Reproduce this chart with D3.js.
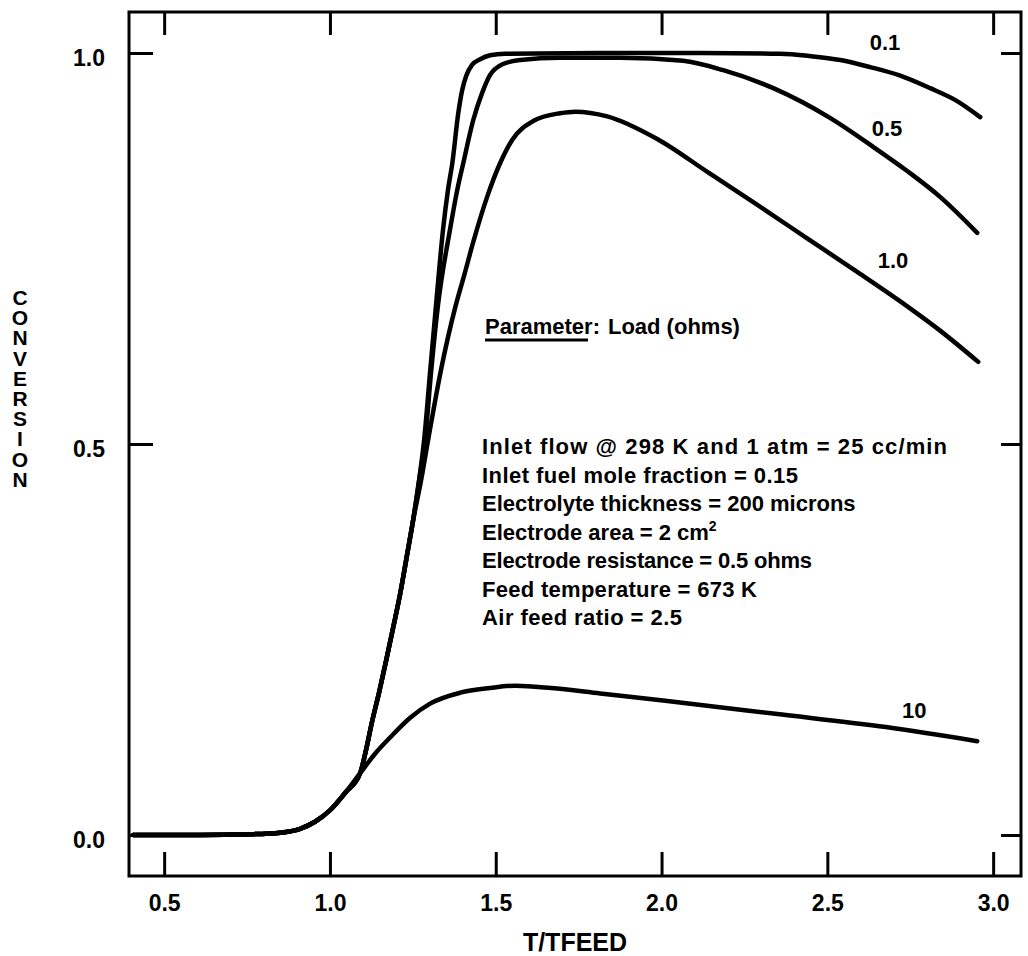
<!DOCTYPE html>
<html>
<head>
<meta charset="utf-8">
<script src="https://cdn.jsdelivr.net/npm/d3@7"></script>
<style>
  html, body { margin: 0; padding: 0; background: #fff; }
  svg { display: block; }
  text { font-family: "Liberation Sans", Arial, Helvetica, sans-serif; font-weight: bold; fill: #000; }
</style>
</head>
<body>
<svg id="chart" width="1028" height="956"></svg>
<script>
// Conversion vs. reduced temperature T/TFEED for four external loads (ohms)
const xTicks = [0.5, 1.0, 1.5, 2.0, 2.5, 3.0];
const yTicks = [0.0, 0.5, 1.0];
const xTickLabels = ["0.5", "1.0", "1.5", "2.0", "2.5", "3.0"];
const yTickLabels = ["0.0", "0.5", "1.0"];

// low-temperature branch common to every load
const baseX = [0.407, 0.609, 0.759, 0.850, 0.910, 0.955, 1.001, 1.046, 1.091];
const baseY = [0.0, 0.0, 0.001, 0.003, 0.008, 0.017, 0.032, 0.054, 0.079];

// ignition branch common to loads 0.1, 0.5 and 1.0
const riseX = [1.109, 1.127, 1.148, 1.170, 1.191, 1.212, 1.230, 1.251];
const riseY = [0.109, 0.145, 0.182, 0.224, 0.266, 0.309, 0.352, 0.403];

const load01X = [1.269, 1.284, 1.302, 1.320, 1.341, 1.356, 1.369, 1.387, 1.399, 1.411, 1.429, 1.453, 1.483, 1.528, 1.815, 2.116, 2.358, 2.448, 2.539, 2.629, 2.720, 2.810, 2.885, 2.961];
const load01Y = [0.454, 0.505, 0.592, 0.678, 0.774, 0.825, 0.859, 0.923, 0.953, 0.971, 0.985, 0.992, 0.997, 0.999, 1.0, 1.0, 0.999, 0.996, 0.991, 0.982, 0.971, 0.955, 0.940, 0.918];

const load05X = [1.269, 1.287, 1.305, 1.326, 1.362, 1.384, 1.402, 1.432, 1.459, 1.483, 1.522, 1.574, 1.694, 1.875, 2.065, 2.186, 2.337, 2.508, 2.638, 2.741, 2.840, 2.952];
const load05Y = [0.454, 0.505, 0.592, 0.678, 0.774, 0.825, 0.859, 0.914, 0.949, 0.972, 0.986, 0.991, 0.994, 0.994, 0.990, 0.978, 0.955, 0.917, 0.880, 0.849, 0.816, 0.770];

const load10X = [1.275, 1.296, 1.335, 1.378, 1.405, 1.432, 1.474, 1.513, 1.550, 1.613, 1.694, 1.740, 1.836, 1.987, 2.138, 2.288, 2.439, 2.590, 2.741, 2.840, 2.955];
const load10Y = [0.454, 0.505, 0.595, 0.675, 0.716, 0.758, 0.816, 0.859, 0.889, 0.913, 0.923, 0.925, 0.919, 0.890, 0.848, 0.806, 0.763, 0.720, 0.676, 0.645, 0.605];

const load100X = [1.136, 1.182, 1.242, 1.302, 1.393, 1.483, 1.559, 1.667, 1.815, 2.005, 2.343, 2.677, 2.952];
const load100Y = [0.104, 0.125, 0.150, 0.168, 0.182, 0.188, 0.191, 0.188, 0.181, 0.172, 0.155, 0.138, 0.120];

const loadNames = ["0.1", "0.5", "1.0", "10"];
const labelX = [2.674, 2.680, 2.698, 2.762];
const labelY = [1.014, 0.904, 0.735, 0.160];

const infoLines = [
  "Inlet flow @ 298 K and 1 atm = 25 cc/min",
  "Inlet fuel mole fraction = 0.15",
  "Electrolyte thickness = 200 microns",
  "Electrode area = 2 cm",
  "Electrode resistance = 0.5 ohms",
  "Feed temperature = 673 K",
  "Air feed ratio = 2.5"
];
// set widths of the condition lines (null keeps the natural width)
const infoWidths = [465, 316, null, null, 330, 275, 200];
const yTitle = "CONVERSION";
const xTitle = "T/TFEED";

const svg = d3.select("#chart");
const plotLeft = 129, plotRight = 1021, plotTop = 12, plotBottom = 876;

const x = d3.scaleLinear().domain([0.394, 3.084]).range([plotLeft, plotRight]);
const y = d3.scaleLinear().domain([-0.0524, 1.0524]).range([plotBottom, plotTop]);

function zipPts(xs, ys) { return xs.map((v, i) => [v, ys[i]]); }
const head = zipPts(baseX, baseY);
const rise = zipPts(riseX, riseY);
const series = [
  head.concat(rise, zipPts(load01X, load01Y)),
  head.concat(rise, zipPts(load05X, load05Y)),
  head.concat(rise, zipPts(load10X, load10Y)),
  head.concat(zipPts(load100X, load100Y))
];

const line = d3.line()
  .x(d => x(d[0]))
  .y(d => y(d[1]))
  .curve(d3.curveMonotoneX);

svg.append("g").selectAll("path")
  .data(series)
  .join("path")
  .attr("d", line)
  .attr("fill", "none")
  .attr("stroke", "#000")
  .attr("stroke-width", 4.5)
  .attr("stroke-linecap", "round")
  .attr("stroke-linejoin", "round");

// inward ticks on all four sides
const fmtX = (d, i) => xTickLabels[i];
const fmtY = (d, i) => yTickLabels[i];

const gB = svg.append("g").attr("transform", `translate(0,${plotBottom})`)
  .call(d3.axisBottom(x).tickValues(xTicks).tickFormat(fmtX).tickSizeInner(-24).tickSizeOuter(0).tickPadding(19));
const gT = svg.append("g").attr("transform", `translate(0,${plotTop})`)
  .call(d3.axisTop(x).tickValues(xTicks).tickFormat("").tickSizeInner(-23).tickSizeOuter(0));
const gL = svg.append("g").attr("transform", `translate(${plotLeft},0)`)
  .call(d3.axisLeft(y).tickValues(yTicks).tickFormat(fmtY).tickSizeInner(-24).tickSizeOuter(0).tickPadding(24));
const gR = svg.append("g").attr("transform", `translate(${plotRight},0)`)
  .call(d3.axisRight(y).tickValues(yTicks).tickFormat("").tickSizeInner(-20).tickSizeOuter(0));

[gB, gT, gL, gR].forEach(g => {
  g.select(".domain").remove();
  g.selectAll(".tick line").attr("stroke", "#000").attr("stroke-width", 3);
  g.selectAll(".tick text")
    .attr("font-family", "'Liberation Sans', Arial, sans-serif")
    .attr("font-weight", "bold")
    .attr("font-size", 23)
    .attr("fill", "#000");
});
gL.selectAll(".tick text").attr("dy", "0.55em");

svg.append("rect")
  .attr("x", plotLeft).attr("y", plotTop)
  .attr("width", plotRight - plotLeft).attr("height", plotBottom - plotTop)
  .attr("fill", "none").attr("stroke", "#000").attr("stroke-width", 3);

// curve labels
svg.append("g").selectAll("text")
  .data(loadNames)
  .join("text")
  .attr("x", (d, i) => x(labelX[i]))
  .attr("y", (d, i) => y(labelY[i]))
  .attr("text-anchor", "middle")
  .attr("dy", "0.36em")
  .attr("font-size", 22)
  .text(d => d);

// parameter note
const pNote = svg.append("text").attr("x", 485).attr("y", 334).attr("font-size", 22);
pNote.append("tspan").text("Parameter:");
pNote.append("tspan").attr("dx", 8).text("Load (ohms)");
svg.append("line").attr("x1", 485).attr("x2", 588).attr("y1", 340).attr("y2", 340)
  .attr("stroke", "#000").attr("stroke-width", 3);

// operating conditions
const info = svg.append("g");
infoLines.forEach((t, i) => {
  const tx = info.append("text").attr("x", 482).attr("y", 454 + i * 28.5).attr("font-size", 22).text(t);
  if (infoWidths[i]) tx.attr("textLength", infoWidths[i]).attr("lengthAdjust", "spacing");
  if (i === 3) tx.append("tspan").attr("font-size", 14).attr("dy", -9).text("2");
});

// stacked vertical y-axis title
svg.append("text")
  .attr("x", 20)
  .attr("y", 286)
  .attr("font-size", 21)
  .style("writing-mode", "vertical-rl")
  .style("text-orientation", "upright")
  .style("letter-spacing", "-2.8px")
  .text(yTitle);

svg.append("text")
  .attr("x", 575).attr("y", 951)
  .attr("text-anchor", "middle")
  .attr("font-size", 25)
  .text(xTitle);
</script>
</body>
</html>
